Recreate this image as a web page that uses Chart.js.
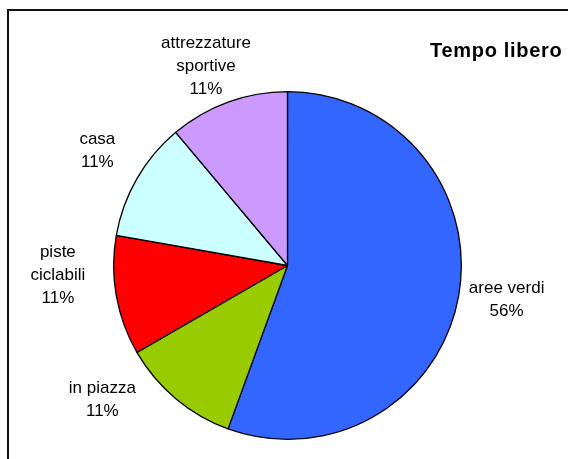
<!DOCTYPE html>
<html>
<head>
<meta charset="utf-8">
<script src="https://cdn.jsdelivr.net/npm/chart.js@4"></script>
<style>
  html, body { margin: 0; padding: 0; background: #fff; }
  #wrap { width: 568px; height: 459px; }
</style>
</head>
<body>
<div id="wrap"><canvas id="c" width="568" height="459"></canvas></div>
<script>
// Data
const chartTitle = "Tempo libero";
const categories = ["aree verdi", "in piazza", ["piste", "ciclabili"], "casa", ["attrezzature", "sportive"]];
const values = [5, 1, 1, 1, 1];
const sliceColors = ["#3366FF", "#99CC00", "#FF0000", "#CCFFFF", "#CC99FF"];

// Label placement tweaks (Excel "best fit" style): angle shift in degrees, extra distance beyond the rim
const labelAngleShift = [-1, 14, 7.5, 1, -2.3];
const labelGap = [48, 55, 56, 48, 41];

const framePlugin = {
  id: 'frame',
  beforeDraw(chart) {
    const ctx = chart.ctx;
    ctx.save();
    ctx.fillStyle = '#fff';
    ctx.fillRect(0, 0, chart.width, chart.height);
    ctx.strokeStyle = '#111';
    ctx.lineWidth = 2;
    ctx.strokeRect(8, 10, 800, 800);
    ctx.restore();
  }
};

const labelPlugin = {
  id: 'pieLabels',
  afterDatasetsDraw(chart) {
    const ctx = chart.ctx;
    const meta = chart.getDatasetMeta(0);
    const data = chart.data.datasets[0].data;
    const total = data.reduce((a, b) => a + b, 0);
    ctx.save();
    ctx.font = '17px "Liberation Sans", Arial, sans-serif';
    ctx.fillStyle = '#000';
    ctx.textAlign = 'center';
    ctx.textBaseline = 'middle';
    const lh = 23;
    meta.data.forEach((arc, i) => {
      const p = arc.getProps(['x', 'y', 'startAngle', 'endAngle', 'outerRadius'], true);
      const mid = (p.startAngle + p.endAngle) / 2 + labelAngleShift[i] * Math.PI / 180;
      const d = p.outerRadius + labelGap[i];
      const cx = p.x + Math.cos(mid) * d;
      const cy = p.y + Math.sin(mid) * d;
      const cat = chart.data.labels[i];
      const lines = (Array.isArray(cat) ? cat.slice() : [cat]);
      lines.push(Math.round(data[i] / total * 100) + '%');
      const top = cy - (lines.length - 1) * lh / 2;
      lines.forEach((t, k) => ctx.fillText(t, cx, top + k * lh));
    });
    // Title
    ctx.font = 'bold 20px "Liberation Sans", Arial, sans-serif';
    try { ctx.letterSpacing = '0.7px'; } catch (e) {}
    ctx.textAlign = 'left';
    ctx.fillText(chartTitle, 430, 51);
    ctx.restore();
  }
};

new Chart(document.getElementById('c'), {
  type: 'pie',
  data: {
    labels: categories,
    datasets: [{
      data: values,
      backgroundColor: sliceColors,
      borderColor: '#000',
      borderWidth: 1.3,
      hoverOffset: 0
    }]
  },
  options: {
    responsive: false,
    devicePixelRatio: 1,
    animation: false,
    layout: { padding: { left: 113, right: 106, top: 91, bottom: 19 } },
    plugins: {
      legend: { display: false },
      tooltip: { enabled: false },
      title: { display: false }
    }
  },
  plugins: [framePlugin, labelPlugin]
});
</script>
</body>
</html>
